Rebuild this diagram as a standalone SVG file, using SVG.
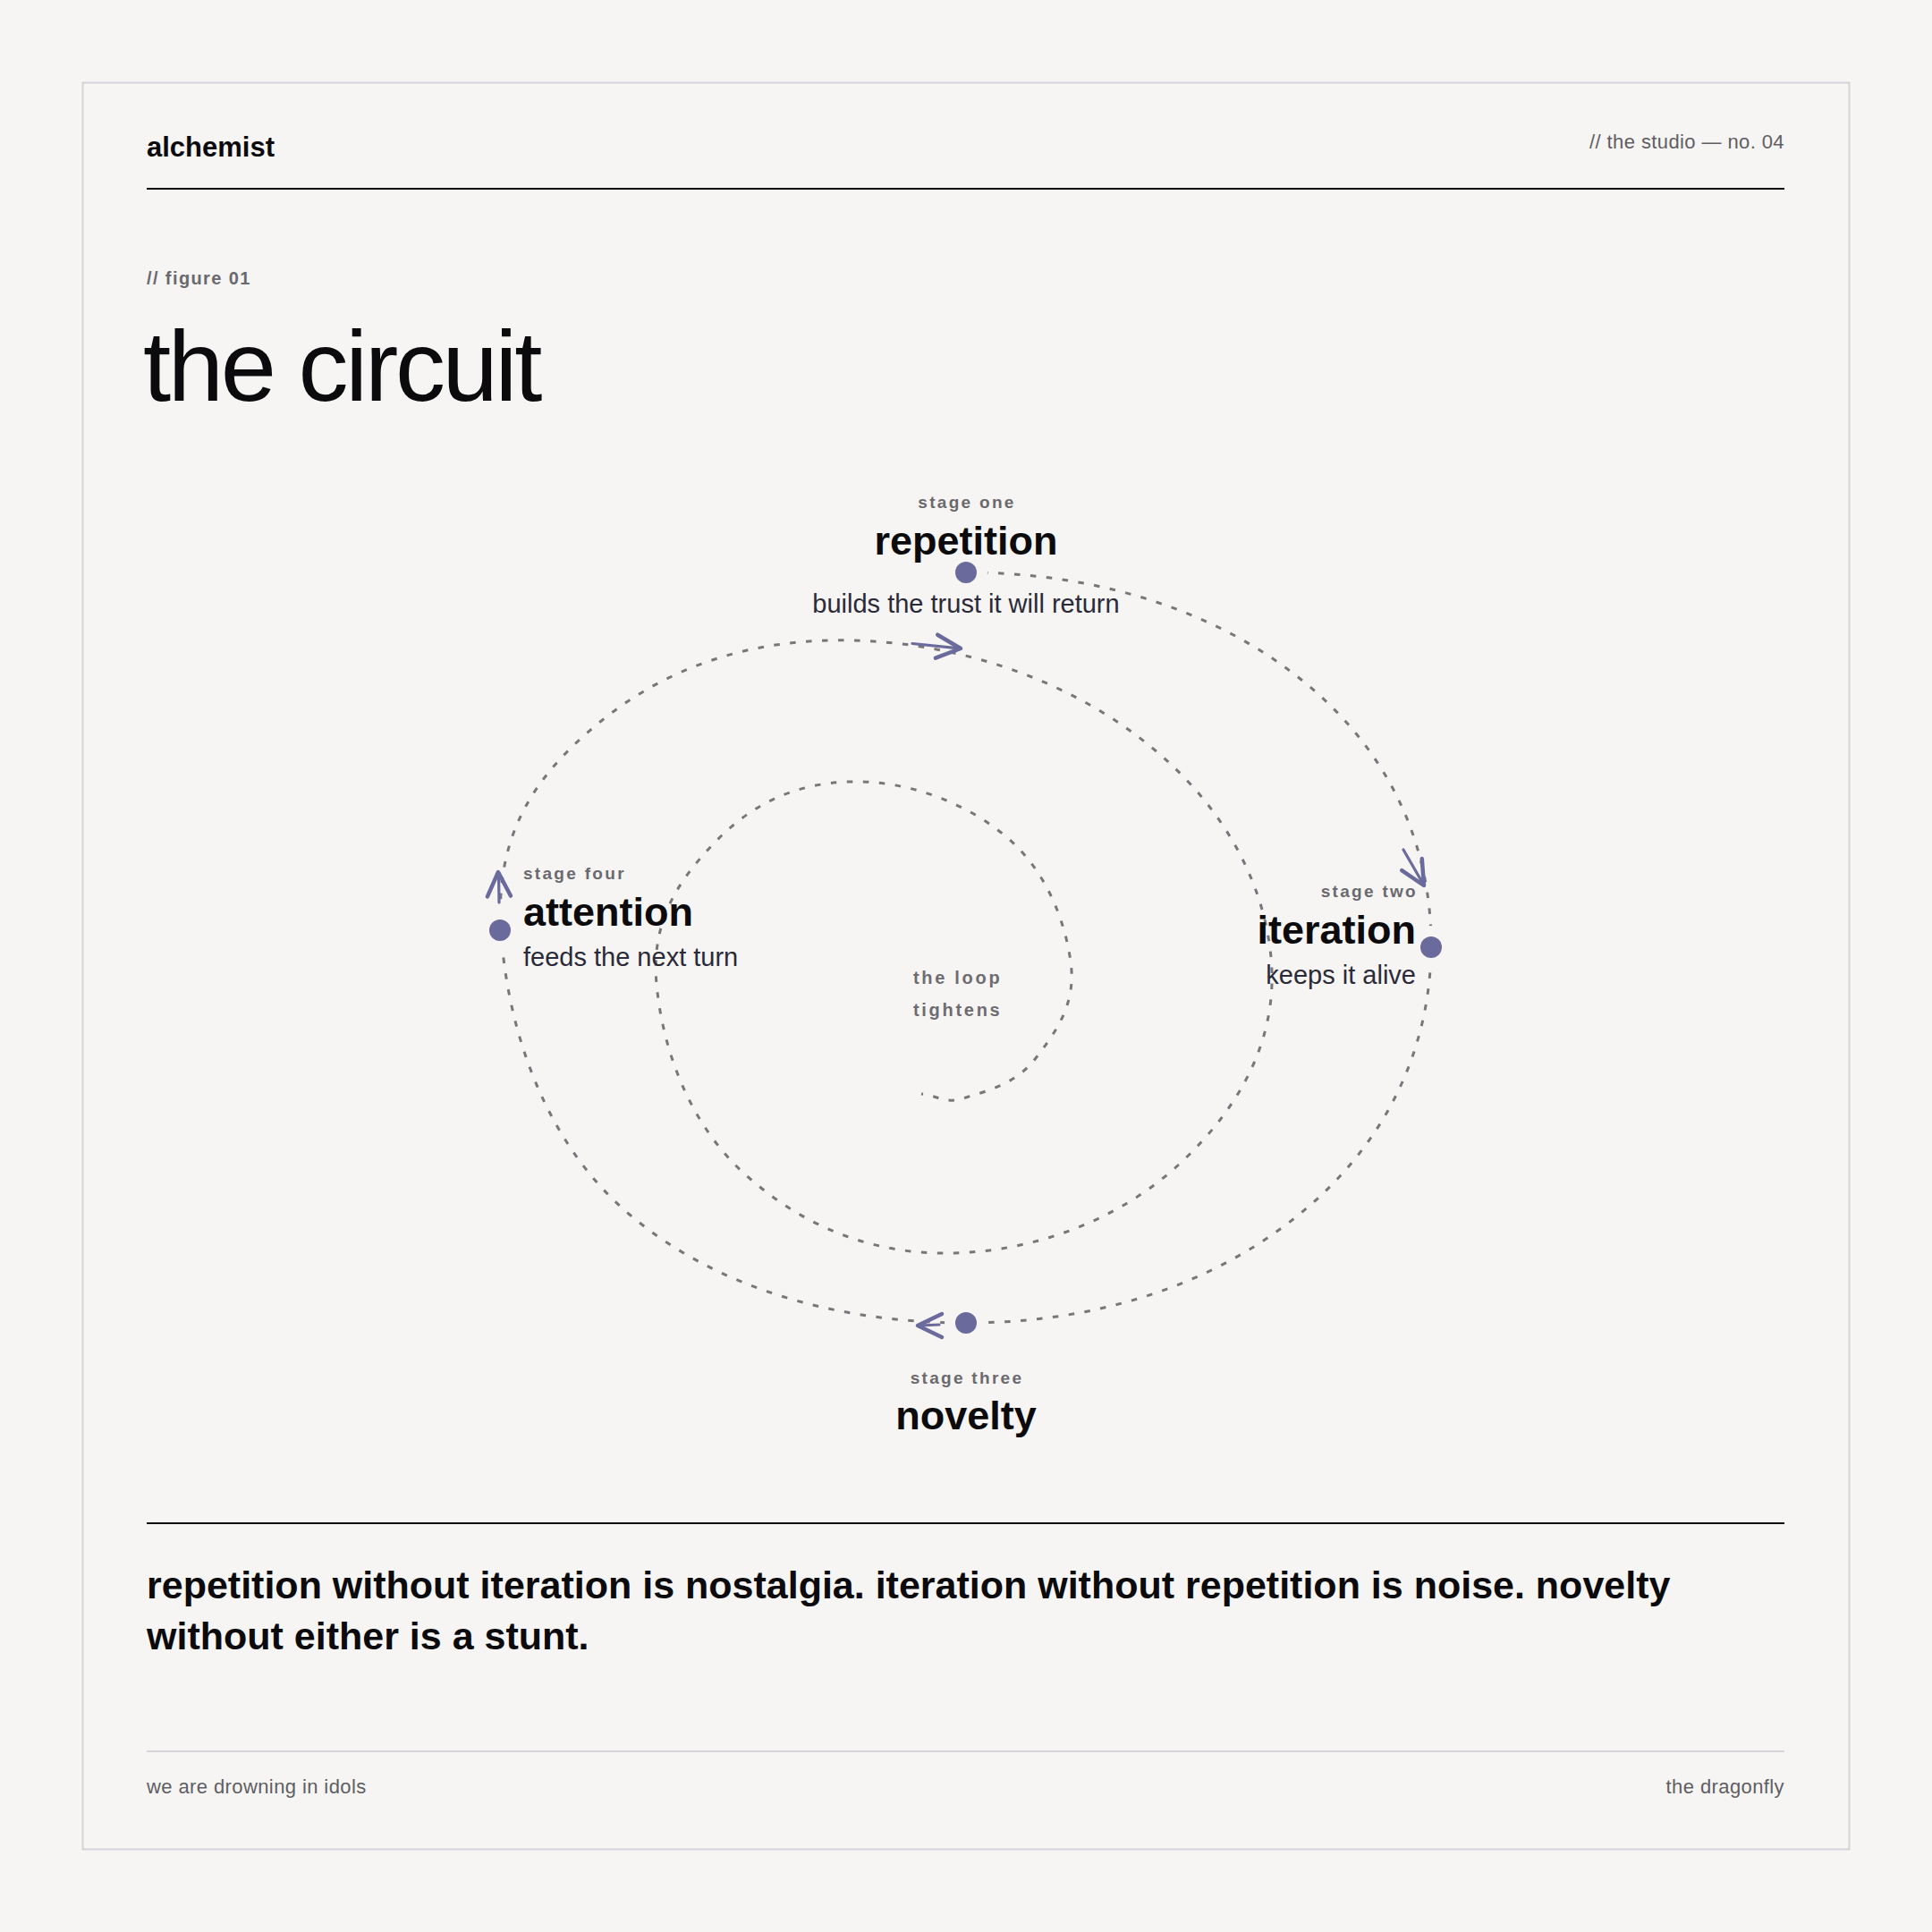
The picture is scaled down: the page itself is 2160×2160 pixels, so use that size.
<svg xmlns="http://www.w3.org/2000/svg" width="2160" height="2160" viewBox="0 0 2160 2160">
<style>
.sans{font-family:"Liberation Sans",Arial,sans-serif}
.lbl{font-family:"Liberation Sans",Arial,sans-serif;font-size:19px;font-weight:700;letter-spacing:2.3px;fill:#6a696e}
.ttl{font-family:"Liberation Sans",Arial,sans-serif;font-size:45px;font-weight:700;fill:#0b0b0d}
.sub{font-family:"Liberation Sans",Arial,sans-serif;font-size:29px;fill:#2b2a38}
.dot{fill:#6b6a9c;stroke:#f6f5f3;stroke-width:24;paint-order:stroke}
.spiral{fill:none;stroke:#78767b;stroke-width:3;stroke-dasharray:6.5 11.5}
.shaft{stroke:#6b6a9c;stroke-width:3.2;stroke-linecap:round}
.head{fill:none;stroke:#6b6a9c;stroke-width:4.5;stroke-linecap:round;stroke-linejoin:round}
.small{font-family:"Liberation Sans",Arial,sans-serif;font-size:22px;letter-spacing:0.4px;fill:#5f5e63}
</style>
<defs>
<polyline id="chev" class="head" points="-27,-13 0,0 -27,13"/>
</defs>
<rect x="0" y="0" width="2160" height="2160" fill="#f6f5f3"/>
<rect x="92.5" y="92.5" width="1975" height="1975" fill="none" stroke="#d6d4d9" stroke-width="2"/>

<g id="header">
<text x="164" y="174.5" class="sans" font-size="31" font-weight="700" fill="#0b0b0d">alchemist</text>
<text x="1995" y="166" class="small" text-anchor="end">// the studio — no. 04</text>
<line x1="164" y1="211" x2="1995" y2="211" stroke="#0b0b0d" stroke-width="2.2"/>
<text x="164" y="318" class="sans" font-size="20" font-weight="700" letter-spacing="1.4" fill="#6a696e">// figure 01</text>
<text x="160" y="448" class="sans" font-size="112" letter-spacing="-3.3" fill="#0b0b0d">the circuit</text>
</g>

<g id="connectors">
<path class="spiral" d="M1080,640 C1222.5,640 1356.2,680.4 1455,760 C1553.8,839.6 1600.8,945.2 1600,1059 C1599.2,1172.8 1549.8,1279.2 1451,1359 C1352.2,1438.8 1221.9,1479.2 1080,1479 C938.1,1478.8 802.8,1441.6 704,1358 C605.2,1274.4 566.3,1143.7 560,1039 C553.7,934.3 595.9,868.4 671,807 C746.1,745.6 840.6,712.8 955,716 C1069.4,719.2 1184.5,756.7 1273,824 C1361.5,891.3 1412.3,979.4 1421,1070 C1429.7,1160.6 1386.6,1238.1 1319,1301 C1251.4,1363.9 1157.5,1398.9 1065,1401 C972.5,1403.1 894.9,1369.2 832,1312 C769.1,1254.8 740.3,1170.3 734,1100 C727.7,1029.7 758,984.9 799,942 C840,899.1 888.6,875.7 950,874 C1011.4,872.3 1075.1,894.8 1122,933 C1168.9,971.2 1190.2,1027.5 1197,1075 C1203.8,1122.5 1180.2,1154.1 1158,1183 C1135.8,1211.9 1104.3,1219.4 1080,1227 C1055.7,1234.6 1055.1,1226.8 1030,1223"/>
<g id="arrow-top">
<line class="shaft" x1="1020" y1="719.5" x2="1072" y2="724.8"/>
<use href="#chev" transform="translate(1074,725) rotate(5)"/>
</g>
<g id="arrow-right">
<line class="shaft" x1="1569" y1="950" x2="1591" y2="988"/>
<use href="#chev" transform="translate(1592,990) rotate(60)"/>
</g>
<g id="arrow-bottom">
<line class="shaft" x1="1050" y1="1481" x2="1028" y2="1482"/>
<use href="#chev" transform="translate(1026,1482) rotate(180)"/>
</g>
<g id="arrow-left">
<line class="shaft" x1="558" y1="1009" x2="557.5" y2="977"/>
<use href="#chev" transform="translate(557,975) rotate(-92)"/>
</g>
</g>

<g id="stage-one">
<circle class="dot" cx="1080" cy="640" r="12"/>
<text x="1081" y="568" class="lbl" text-anchor="middle">stage one</text>
<text x="1080" y="620" class="ttl" text-anchor="middle">repetition</text>
<text x="1080" y="684.5" class="sub" text-anchor="middle">builds the trust it will return</text>
</g>

<g id="stage-two">
<circle class="dot" cx="1600" cy="1059" r="12"/>
<text x="1585" y="1003" class="lbl" text-anchor="end">stage two</text>
<text x="1583" y="1055" class="ttl" text-anchor="end">iteration</text>
<text x="1583" y="1100" class="sub" text-anchor="end">keeps it alive</text>
</g>

<g id="stage-three">
<circle class="dot" cx="1080" cy="1479" r="12"/>
<text x="1081" y="1547" class="lbl" text-anchor="middle">stage three</text>
<text x="1080" y="1598" class="ttl" text-anchor="middle">novelty</text>
</g>

<g id="stage-four">
<circle class="dot" cx="559" cy="1040" r="12"/>
<text x="585" y="983" class="lbl">stage four</text>
<text x="585" y="1035" class="ttl">attention</text>
<text x="585" y="1080" class="sub">feeds the next turn</text>
</g>

<g id="center-label">
<text x="1021" y="1100" class="sans" font-size="20" font-weight="700" letter-spacing="2.7" fill="#6e6c72">the loop</text>
<text x="1021" y="1136" class="sans" font-size="20" font-weight="700" letter-spacing="2.7" fill="#6e6c72">tightens</text>
</g>

<g id="footer">
<line x1="164" y1="1703" x2="1995" y2="1703" stroke="#0b0b0d" stroke-width="2.2"/>
<text x="164" y="1787" class="sans" font-size="43" font-weight="700" fill="#0b0b0d">repetition without iteration is nostalgia. iteration without repetition is noise. novelty</text>
<text x="164" y="1844" class="sans" font-size="43" font-weight="700" fill="#0b0b0d">without either is a stunt.</text>
<line x1="164" y1="1958" x2="1995" y2="1958" stroke="#d6d4d9" stroke-width="2"/>
<text x="164" y="2005" class="small">we are drowning in idols</text>
<text x="1995" y="2005" class="small" text-anchor="end">the dragonfly</text>
</g>
</svg>
